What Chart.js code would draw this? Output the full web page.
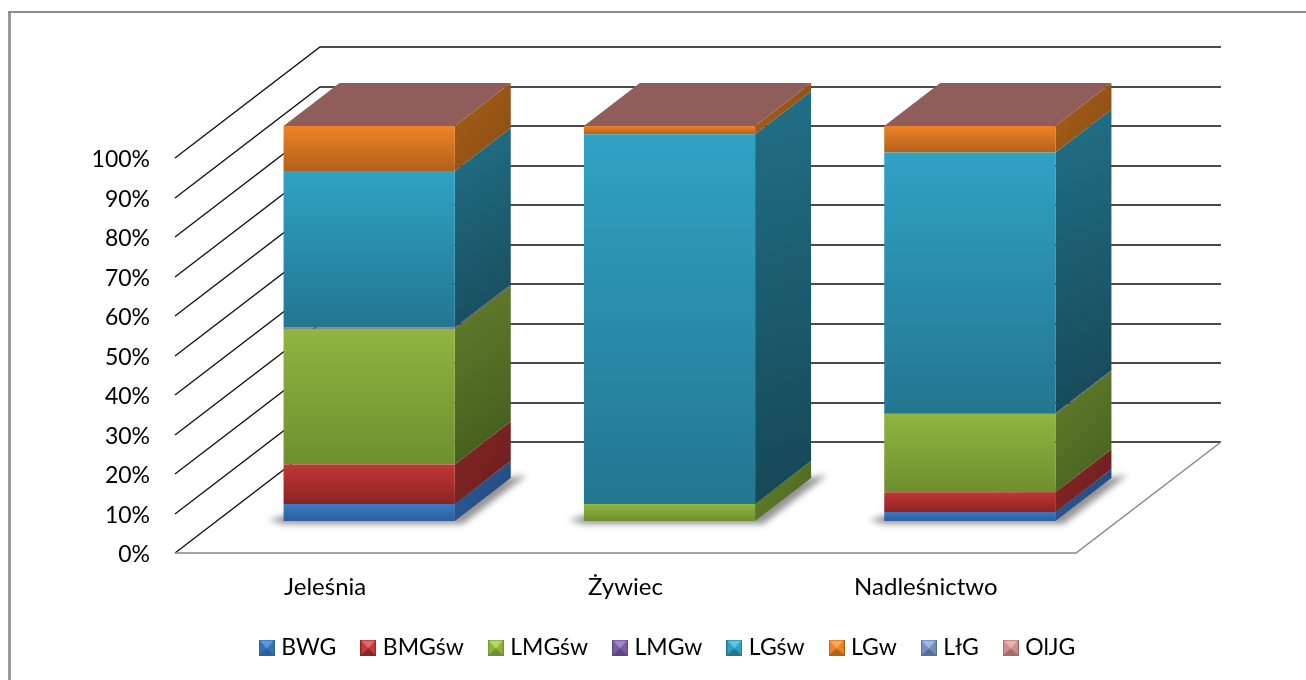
<!DOCTYPE html>
<html><head><meta charset="utf-8">
<style>html,body{margin:0;padding:0;background:#fff;overflow:hidden}#w{position:relative;width:1306px;height:680px}canvas{display:block}</style>
<script src="https://cdn.jsdelivr.net/npm/chart.js@4/dist/chart.umd.min.js"></script>
</head><body><div id="w"><canvas id="c" width="1306" height="680"></canvas></div>
<script>
const categories = ['Jeleśnia','Żywiec','Nadleśnictwo'];
const seriesNames = ['BWG','BMGśw','LMGśw','LMGw','LGśw','LGw','LłG','OlJG'];
const BWG   = [4.3, 0, 2.3];
const BMGsw = [10, 0, 5];
const LMGsw = [34.4, 4.3, 19.8];
const LMGw  = [0.3, 0, 0.2];
const LGsw  = [39.6, 93.6, 66];
const LGw   = [11.4, 2.1, 6.7];
const LG    = [0, 0, 0];
const OlJG  = [0, 0, 0];
const seriesValues = [BWG,BMGsw,LMGsw,LMGw,LGsw,LGw,LG,OlJG];
const yTicks = [0,10,20,30,40,50,60,70,80,90,100];

// colours: [front top, front bottom, side light, side dark, legend]
const palette = [
 ['#3c7ac2','#2b5f9e','#2a5896','#1f3f6e','#3a72b0'],
 ['#c23636','#8a2424','#862626','#591818','#c03c3a'],
 ['#90b540','#6f8f30','#627e2c','#3c5218','#8fb23f'],
 ['#7d5ea6','#5f4680','#54406f','#3a2c4e','#7a5ea2'],
 ['#30a2c4','#237690','#217087','#154452','#30a0c0'],
 ['#f08226','#b0621a','#a85e18','#74420f','#e8842a'],
 ['#7290c4','#566e98','#4c6088','#35435f','#7890c0'],
 ['#d08f8c','#a06c69','#8f5d59','#8f5d59','#d0908c']
];
const swatchLight = ['#5b9be0','#e06a68','#b5d95e','#a384cc','#55c8e6','#ffa850','#a0b8e6','#eab4b0'];
const topColor = '#8f5e5a';

// projection of the 3D box
const WALL = {dx:145, dy:-111};
const BAR_OFFSET = {dx:44, dy:-32};
const BAR_DEPTH = {dx:56, dy:-43};

function swatch(p,light){
  const s=16, c=document.createElement('canvas'); c.width=s; c.height=s;
  const g=c.getContext('2d'), m=s/2;
  const tri=(pts,col)=>{g.beginPath();pts.forEach((q,i)=>i?g.lineTo(q[0],q[1]):g.moveTo(q[0],q[1]));g.closePath();g.fillStyle=col;g.fill();};
  g.fillStyle=p[4]; g.fillRect(0,0,s,s);
  tri([[0,s],[s,s],[m,m+1]],p[1]);
  tri([[0,0],[0,s],[m,m]],p[4]);
  tri([[s,0],[s,s],[m,m]],p[4]);
  tri([[1,1],[s-1,1],[m,m+1]],light);
  g.strokeStyle=p[1]; g.lineWidth=1; g.strokeRect(.5,.5,s-1,s-1);
  return c;
}
const swatches = palette.map((p,i)=>swatch(p,swatchLight[i]));

function segmentGradient(ctx,i){
  const chart=ctx.chart, y=chart.scales.y;
  const di=ctx.index;
  if(!y||di===undefined) return palette[i][0];
  let base=0; for(let k=0;k<i;k++) base+=seriesValues[k][di];
  const y0=y.getPixelForValue(base+seriesValues[i][di]), y1=y.getPixelForValue(base);
  if(!isFinite(y0)||!isFinite(y1)||y0===y1) return palette[i][0];
  const g=chart.ctx.createLinearGradient(0,y0,0,y1);
  g.addColorStop(0,palette[i][0]); g.addColorStop(1,palette[i][1]);
  return g;
}

const box3d = {
  id:'box3d',
  beforeDatasetsDraw(chart){
    const c=chart.ctx, a=chart.chartArea, ys=chart.scales.y;
    c.save();
    c.lineWidth=1.3; c.strokeStyle='#111';
    yTicks.forEach(v=>{
      const y=Math.round(ys.getPixelForValue(v));
      c.beginPath();
      c.moveTo(a.left,y);
      c.lineTo(a.left+WALL.dx,y+WALL.dy);
      c.lineTo(a.right+WALL.dx,y+WALL.dy);
      c.stroke();
    });
    const y0=Math.round(ys.getPixelForValue(0));
    c.strokeStyle='#868686'; c.lineWidth=1.4;
    c.beginPath();
    c.moveTo(a.left,y0); c.lineTo(a.right,y0); c.lineTo(a.right+WALL.dx,y0+WALL.dy);
    c.stroke();
    const n=categories.length;
    for(let di=0;di<n;di++){
      const first=chart.getDatasetMeta(0).data[di];
      const L=first.x-first.width/2+BAR_OFFSET.dx, R=first.x+first.width/2+BAR_OFFSET.dx;
      const b=first.base+BAR_OFFSET.dy;
      c.save();
      c.filter='blur(3px)'; c.fillStyle='rgba(0,0,0,.42)';
      c.beginPath();
      c.moveTo(L-15,b-1); c.lineTo(L+10,b-8); c.lineTo(R+BAR_DEPTH.dx+16,b+BAR_DEPTH.dy-3);
      c.lineTo(R+8,b+3); c.lineTo(L,b+3); c.closePath(); c.fill();
      c.restore();
      chart.data.datasets.forEach((ds,i)=>{
        const el=chart.getDatasetMeta(i).data[di];
        if(!ds.data[di]) return;
        const t=el.y+BAR_OFFSET.dy, bt=el.base+BAR_OFFSET.dy;
        const g=c.createLinearGradient(R,t+BAR_DEPTH.dy,R+BAR_DEPTH.dx*2.2,bt);
        g.addColorStop(0,palette[i][2]); g.addColorStop(1,palette[i][3]);
        c.fillStyle=g;
        c.beginPath();
        c.moveTo(R,t); c.lineTo(R+BAR_DEPTH.dx,t+BAR_DEPTH.dy);
        c.lineTo(R+BAR_DEPTH.dx,bt+BAR_DEPTH.dy); c.lineTo(R,bt);
        c.closePath(); c.fill();
      });
      const top=ys.getPixelForValue(100)+BAR_OFFSET.dy;
      c.fillStyle=topColor;
      c.beginPath();
      c.moveTo(L,top); c.lineTo(R,top); c.lineTo(R+BAR_DEPTH.dx,top+BAR_DEPTH.dy); c.lineTo(L+BAR_DEPTH.dx,top+BAR_DEPTH.dy);
      c.closePath(); c.fill();
    }
    c.restore();
    c.save();
    c.translate(BAR_OFFSET.dx,BAR_OFFSET.dy);
  },
  afterDatasetsDraw(chart){ chart.ctx.restore(); },
  afterDraw(chart){
    const c=chart.ctx;
    c.save(); c.strokeStyle='#999'; c.lineWidth=3;
    c.beginPath(); c.moveTo(9.5,680); c.lineTo(9.5,11); c.stroke();
    c.lineWidth=2; c.strokeStyle='#8c8c8c';
    c.beginPath(); c.moveTo(8,12); c.lineTo(1306,12); c.stroke();
    c.restore();
  }
};

const FONT='Lato, Carlito, sans-serif';
new Chart(document.getElementById('c'),{
  type:'bar',
  data:{labels:categories,datasets:seriesNames.map((name,i)=>({
    label:name,
    data:seriesValues[i],
    backgroundColor:ctx=>segmentGradient(ctx,i),
    borderWidth:0,
    barPercentage:0.57,
    categoryPercentage:1
  }))},
  plugins:[box3d],
  options:{
    responsive:false,animation:false,
    layout:{padding:{left:33,right:0,top:158,bottom:11}},
    scales:{
      x:{stacked:true,grid:{display:false},border:{display:false},
        afterFit(s){s.height=54;},
        ticks:{color:'#000',font:{family:FONT,size:24},padding:12,maxRotation:0}},
      y:{stacked:true,min:0,max:100,grid:{display:false},border:{display:false},
        afterFit(s){s.width=142;},
        afterBuildTicks(s){s.ticks=yTicks.map(v=>({value:v}));},
        ticks:{color:'#000',font:{family:FONT,size:23},padding:17,labelOffset:2,callback:v=>v+'%'}},
      spacer:{type:'linear',position:'right',display:true,grid:{display:false},border:{display:false},
        ticks:{display:false},afterFit(s){s.width=230;}}
    },
    plugins:{
      tooltip:{enabled:false},
      legend:{position:'bottom',
        labels:{color:'#000',font:{family:FONT,size:23},usePointStyle:true,pointStyleWidth:6,boxHeight:16,padding:29,
          generateLabels(chart){return chart.data.datasets.map((d,i)=>({text:d.label,datasetIndex:i,pointStyle:swatches[i],fontColor:'#000',lineWidth:0,hidden:false}));}
        }
      }
    }
  }
});
</script></body></html>
